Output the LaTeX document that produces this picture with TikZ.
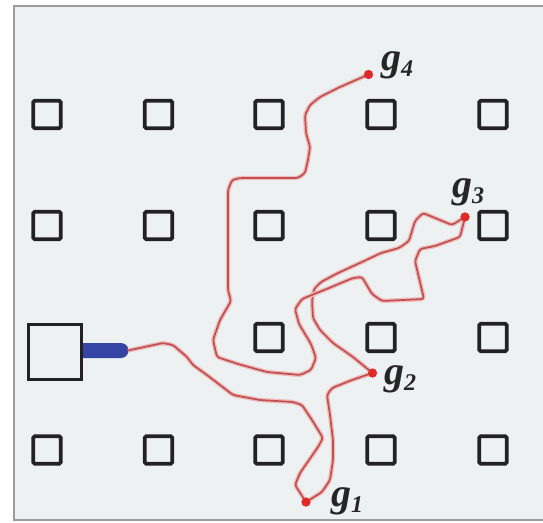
\documentclass[tikz,border=0pt]{standalone}
\usepackage{fontspec}
\setmainfont{Liberation Serif}
\definecolor{bgray}{HTML}{EEF1F1}
\definecolor{framegray}{HTML}{9C9C9C}
\definecolor{routered}{HTML}{C24E50}
\definecolor{halopink}{HTML}{EDBDBD}
\definecolor{dotred}{HTML}{E02A2A}
\definecolor{barblue}{HTML}{3545A5}
\definecolor{sqblack}{HTML}{222222}
\begin{document}
\begin{tikzpicture}[x=1pt,y=-1pt,
  obst/.style={draw=sqblack, line width=3.7pt, rounded corners=1.5pt, minimum size=27.5pt, inner sep=0pt},
  robot/.style={draw=sqblack, line width=3pt, minimum width=53pt, minimum height=55pt, inner sep=0pt},
  route/.style={preaction={draw=halopink, line width=4.4pt, rounded corners=2.5pt, line join=round},
                draw=routered, line width=1.7pt, rounded corners=2.5pt, line join=round},
  goal/.style={circle, fill=dotred, inner sep=0pt, minimum size=9pt},
  lab/.style={font=\fontsize{40}{40}\selectfont\bfseries\itshape, inner sep=0pt, anchor=base west, text=black!85}]
\useasboundingbox (0,0) rectangle (543,522);
\fill[white] (0,0) rectangle (543,522);
\fill[bgray] (14,6) rectangle (546,520);
\draw[framegray, line width=2.4pt] (546,6) -- (14,6) -- (14,520) -- (546,520);

% obstacles
\foreach \c/\x in {1/47,2/158.5,3/269,4/381,5/493}{
  \node[obst] (o1\c) at (\x,114.5) {};
  \node[obst] (o2\c) at (\x,225.5) {};
  \node[obst] (o4\c) at (\x,450) {};
}
\foreach \c/\x in {3/269,4/381,5/493}{
  \node[obst] (o3\c) at (\x,337.5) {};
}

% robot base and arm
\node[robot] (base) at (55,352) {};
\fill[barblue] (base.east |- 0,343) -- (121,343) arc[start angle=-90,end angle=90,radius=7.5] -- (base.east |- 0,358) -- cycle;
\coordinate (tip) at (128,350.5);

% goals
\node[goal] (g1) at (306,502) {};
\node[goal] (g2) at (372.5,373) {};
\node[goal] (g3) at (465,217) {};
\node[goal] (g4) at (368.5,74.5) {};

% routes
\draw[route] (tip) -- (163,343) -- (173,345) -- (187,357) -- (193,365) -- (207,375) -- (233,395) -- (260,400) -- (293,402) -- (302,405) -- (312,420) -- (323,438) -- (318,447) -- (300,473) -- (295,485) -- (g1.center);
\draw[route] (g1.center) -- (322,492) -- (330,480) -- (333,460) -- (333,440) -- (330,415) -- (327,395) -- (332,388) -- (352,380) -- (g2.center);
\draw[route] (g2.center) -- (353,357) -- (333,343) -- (320,330) -- (313,318) -- (312,301) -- (314,289) -- (321,282) -- (338,273) -- (362,262) -- (381,253) -- (399,248) -- (409,241) -- (415,221) -- (423,213) -- (452,225) -- (g3.center);
\draw[route] (g3.center) -- (460,237) -- (435,246) -- (420,249) -- (415,261) -- (424,299) -- (382,301) -- (372,294) -- (362,277) -- (353,278) -- (329,288) -- (302,299) -- (295,309) -- (299,324) -- (311,344) -- (316,358) -- (311,370) -- (300,375) -- (267,372) -- (238,364) -- (217,357) -- (213,340) -- (220,320) -- (231,301) -- (228,290) -- (228,190) -- (232,180) -- (240,178) -- (298,178) -- (305,173) -- (308,160) -- (310,147) -- (306,133) -- (305,115) -- (310,105) -- (320,97) -- (340,87) -- (g4.center);
\node[goal] at (g1) {};
\node[goal] at (g2) {};
\node[goal] at (g3) {};
\node[goal] at (g4) {};

% labels
\node[lab] (l4) at (381,70) {g\raisebox{-6pt}{\fontsize{24}{24}\selectfont 4}};
\node[lab] (l3) at (452,197) {g\raisebox{-6pt}{\fontsize{24}{24}\selectfont 3}};
\node[lab] (l2) at (384,384) {g\raisebox{-6pt}{\fontsize{24}{24}\selectfont 2}};
\node[lab] (l1) at (331,506) {g\raisebox{-6pt}{\fontsize{24}{24}\selectfont 1}};
\end{tikzpicture}
\end{document}
